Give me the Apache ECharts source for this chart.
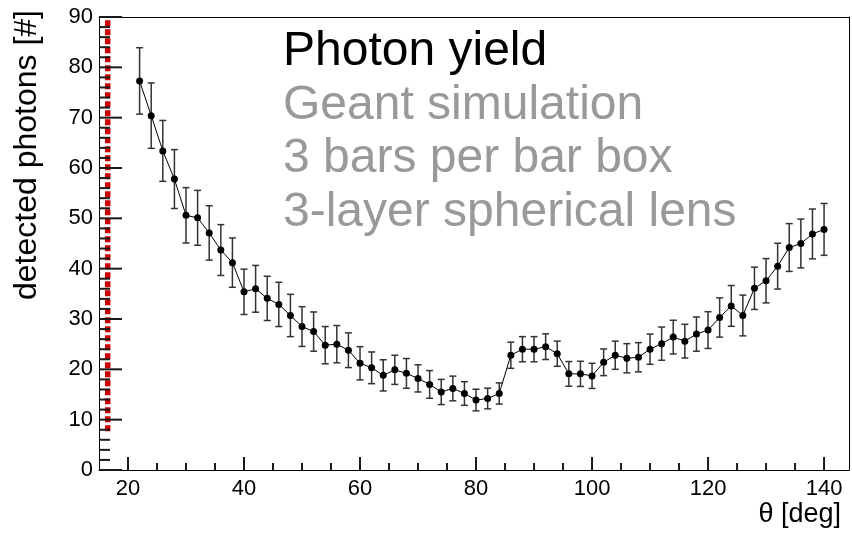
<!DOCTYPE html>
<html>
<head>
<meta charset="utf-8">
<script src="https://cdn.jsdelivr.net/npm/echarts@6/dist/echarts.min.js"></script>
<style>
html,body{margin:0;padding:0;background:#fff;}
#chart{width:852px;height:533px;}
</style>
</head>
<body>
<div id="chart"></div>
<script>
// ---- data ----
const theta = [22,24,26,28,30,32,34,36,38,40,42,44,46,48,50,52,54,56,58,60,
  62,64,66,68,70,72,74,76,78,80,82,84,86,88,90,92,94,96,98,100,
  102,104,106,108,110,112,114,116,118,120,122,124,126,128,130,132,134,136,138,140];
const photons = [77.3,70.4,63.4,57.8,50.6,50.1,47.1,43.7,41.2,35.4,36.0,34.1,32.9,30.7,28.5,27.5,24.8,25.0,23.8,21.2,
  20.3,18.8,19.9,19.2,18.2,17.0,15.5,16.2,15.2,13.9,14.2,15.2,22.8,24.0,24.0,24.5,23.1,19.1,19.1,18.7,
  21.4,22.8,22.2,22.4,24.0,25.1,26.4,25.6,27.0,27.8,30.3,32.6,30.7,36.1,37.6,40.5,44.2,45.0,46.9,47.8];
const errors = [6.6,6.5,6.05,5.85,5.5,5.45,5.4,5.05,4.9,4.5,4.65,4.4,4.4,4.2,3.95,3.9,3.7,3.7,3.45,3.3,
  3.15,3.1,2.9,2.95,2.7,2.75,2.5,2.45,2.35,2.15,2.05,2.1,2.6,2.5,2.5,2.55,2.5,2.45,2.5,2.5,
  2.65,2.8,2.9,2.9,3.0,3.3,3.35,3.35,3.4,3.65,3.9,4.05,4.05,4.2,4.4,4.55,4.75,4.85,4.95,5.15];
const xRange = [15, 144.3];
const yRange = [0, 90];
const xMajorTicks = [20,40,60,80,100,120,140];
const xMinorTicks = [25,30,35,45,50,55,65,70,75,85,90,95,105,110,115,125,130,135];
const yMajorTicks = [0,10,20,30,40,50,60,70,80,90];
const yMinorTicks = [2,4,6,8,12,14,16,18,22,24,26,28,32,34,36,38,42,44,46,48,
  52,54,56,58,62,64,66,68,72,74,76,78,82,84,86,88];
const redLineX = [16.5, 16.5];
const redLineY = [7.7, 90];
const titleLines = ['Photon yield', 'Geant simulation', '3 bars per bar box', '3-layer spherical lens'];
const xTitle = 'θ [deg]';
const yTitle = 'detected photons [#]';

// ---- chart ----
const chart = echarts.init(document.getElementById('chart'), null, {renderer: 'canvas'});
const FONT = '"Liberation Sans", Arial, Helvetica, sans-serif';
const mainData = theta.map((t, i) => [t, photons[i]]);
const errData = theta.map((t, i) => [t, photons[i], errors[i]]);
const redData = redLineX.map((x, i) => [x, redLineY[i]]);
const xTickData = xMajorTicks.concat(xMinorTicks).map(v => [v, yRange[0]]);
const yTickData = yMajorTicks.concat(yMinorTicks).map(v => [xRange[0], v]);

const textGraphics = titleLines.map((s, i) => ({
  type: 'text',
  x: 283,
  y: 52 + i * 53.6,
  style: {
    text: s,
    font: '48px ' + FONT,
    fill: i === 0 ? '#000000' : '#999999',
    align: 'left',
    verticalAlign: 'middle'
  },
  z: 10
}));

const frameAxis = {
  type: 'value',
  axisLine: {show: true, onZero: false, lineStyle: {color: '#000', width: 1}},
  axisTick: {show: false}, minorTick: {show: false},
  axisLabel: {show: false}, splitLine: {show: false}
};

const option = {
  backgroundColor: '#ffffff',
  animation: false,
  grid: {left: 99, right: 3, top: 17, bottom: 63},
  xAxis: [{
    type: 'value',
    min: xRange[0], max: xRange[1],
    minInterval: 20, maxInterval: 20,
    axisLine: {show: true, onZero: false, lineStyle: {color: '#000', width: 1}},
    axisTick: {show: false},
    minorTick: {show: false},
    splitLine: {show: false},
    axisLabel: {
      show: true, margin: 8, color: '#000', fontSize: 22, fontFamily: FONT,
      showMinLabel: false, showMaxLabel: false,
      formatter: v => (xMajorTicks.indexOf(Math.round(v)) >= 0 && Math.abs(v - Math.round(v)) < 1e-6) ? String(Math.round(v)) : ''
    }
  }, Object.assign({position: 'top', min: xRange[0], max: xRange[1]}, frameAxis)],
  yAxis: [{
    type: 'value',
    min: yRange[0], max: yRange[1], interval: 10,
    axisLine: {show: true, onZero: false, lineStyle: {color: '#000', width: 1}},
    axisTick: {show: false},
    minorTick: {show: false},
    splitLine: {show: false},
    axisLabel: {show: true, margin: 6, color: '#000', fontSize: 22, fontFamily: FONT}
  }, Object.assign({position: 'right', min: yRange[0], max: yRange[1]}, frameAxis)],
  graphic: textGraphics.concat([
    {
      type: 'text', x: 27, y: 10, rotation: Math.PI / 2,
      style: {text: yTitle, font: '32px ' + FONT, fill: '#000', align: 'right', verticalAlign: 'middle'}
    },
    {
      type: 'text', x: 841, y: 515,
      style: {text: xTitle, font: '27px ' + FONT, fill: '#000', align: 'right', verticalAlign: 'middle'}
    }
  ]),
  series: [
    {
      type: 'line',
      data: redData,
      symbol: 'none',
      lineStyle: {color: '#cc0000', width: 5.5, type: [6, 3]},
      z: 3,
      silent: true
    },
    {
      // x-axis ticks (inside)
      type: 'custom',
      data: xTickData,
      z: 6,
      silent: true,
      clip: false,
      renderItem: function (params, api) {
        const v = api.value(0);
        const p = api.coord([v, api.value(1)]);
        const len = xMajorTicks.indexOf(v) >= 0 ? 13 : 7;
        return {type: 'line', z2: 100, shape: {x1: p[0], y1: p[1], x2: p[0], y2: p[1] - len},
          style: {stroke: '#1a1a1a', lineWidth: 2}};
      }
    },
    {
      // y-axis ticks (inside)
      type: 'custom',
      data: yTickData,
      z: 6,
      silent: true,
      clip: false,
      renderItem: function (params, api) {
        const v = api.value(1);
        const p = api.coord([api.value(0), v]);
        const len = yMajorTicks.indexOf(v) >= 0 ? 23 : 11;
        return {type: 'line', z2: 100, shape: {x1: p[0], y1: p[1], x2: p[0] + len, y2: p[1]},
          style: {stroke: '#1a1a1a', lineWidth: 2}};
      }
    },
    {
      type: 'custom',
      data: errData,
      z: 4,
      silent: true,
      renderItem: function (params, api) {
        const x = api.value(0), y = api.value(1), e = api.value(2);
        const top = api.coord([x, y + e]);
        const bot = api.coord([x, y - e]);
        const hw = 3.5;
        const st = {stroke: '#333', lineWidth: 1.5};
        return {
          type: 'group',
          children: [
            {type: 'line', shape: {x1: top[0], y1: top[1], x2: bot[0], y2: bot[1]}, style: st},
            {type: 'line', shape: {x1: top[0] - hw, y1: top[1], x2: top[0] + hw, y2: top[1]}, style: st},
            {type: 'line', shape: {x1: bot[0] - hw, y1: bot[1], x2: bot[0] + hw, y2: bot[1]}, style: st}
          ]
        };
      }
    },
    {
      type: 'line',
      data: mainData,
      symbol: 'circle',
      symbolSize: 7,
      itemStyle: {color: '#000'},
      lineStyle: {color: '#000', width: 1},
      z: 5,
      silent: true
    }
  ]
};
chart.setOption(option);
</script>
</body>
</html>
